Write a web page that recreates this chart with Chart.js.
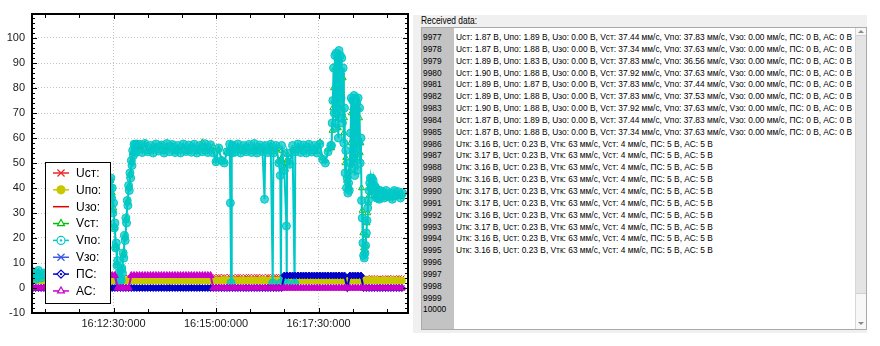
<!DOCTYPE html>
<html>
<head>
<meta charset="utf-8">
<script src="https://cdn.jsdelivr.net/npm/chart.js@4.4.1/dist/chart.umd.min.js"></script>
<style>
  body { margin: 0; background: #fff; width: 880px; height: 346px; overflow: hidden; position: relative;
         font-family: "Liberation Sans", Arial, sans-serif; }
  #chartWrap { position: absolute; left: 0; top: 0; width: 413px; height: 346px; }
  #panel { position: absolute; left: 413px; top: 15px; width: 454px; height: 318px; background: #f0f0f0; }
  #caption { position: absolute; left: 8px; top: 0; line-height: 12px; font-size: 10px; color: #000;
             white-space: nowrap; transform-origin: 0 0; }
  #box { position: absolute; left: 8px; top: 12px; width: 444px; height: 301px; border: 1px solid #aaa;
         background: #fff; overflow: hidden; }
  #gutter { position: absolute; left: 0; top: 0; width: 32px; height: 100%; background: #c3c3c3; }
  #numbers, #lines { position: absolute; top: 3px; font-size: 9.5px; line-height: 11.85px; color: #000;
                     white-space: nowrap; transform-origin: 0 0; }
  #numbers { left: 1px; }
  #lines { left: 34px; }
  #scroll { position: absolute; right: 0; top: 0; width: 10px; height: 100%; border-left: 1px solid #d6d6d6;
            background: #f7f7f7; }
  #thumb { position: absolute; left: 0; right: 0; top: 7px; height: 257px; background: #e4e4e4;
           border-top: 1px solid #d0d0d0; border-bottom: 1px solid #d0d0d0; }
  .arrow { position: absolute; left: 2px; width: 0; height: 0; border-left: 3px solid transparent;
           border-right: 3px solid transparent; }
  #up { top: 2px; border-bottom: 3px solid #8a8a8a; }
  #down { bottom: 4px; border-top: 3px solid #8a8a8a; }
</style>
</head>
<body>
<div id="chartWrap"><canvas id="plot" width="413" height="346"></canvas></div>
<div id="panel">
  <div id="caption">Received data:</div>
  <div id="box">
    <div id="gutter"></div>
    <div id="numbers"></div>
    <div id="lines"></div>
    <div id="scroll"><div id="thumb"></div><div id="up" class="arrow"></div><div id="down" class="arrow"></div></div>
  </div>
</div>
<script>
"use strict";

// time is counted in seconds after 16:10:00
const seriesNames = ["Uст:", "Uпо:", "Uзо:", "Vст:", "Vпо:", "Vзо:", "ПС:", "АС:"];

const yTickValues = [-10, 0, 10, 20, 30, 40, 50, 60, 70, 80, 90, 100];
const xTickValues = [150, 300, 450];
const xTickLabels = ["16:12:30:000", "16:15:00:000", "16:17:30:000"];

// slow channels, sampled every 4 s
const uTimes = [
  32, 36, 40, 44, 48, 52, 56, 60, 64, 68, 72, 76, 80, 84, 88, 92, 96, 100, 104, 108,
  112, 116, 120, 124, 128, 132, 136, 140, 144, 148, 152, 156, 160, 164, 168, 172, 176, 180, 184, 188,
  192, 196, 200, 204, 208, 212, 216, 220, 224, 228, 232, 236, 240, 244, 248, 252, 256, 260, 264, 268,
  272, 276, 280, 284, 288, 292, 296, 300, 304, 308, 312, 316, 320, 324, 328, 332, 336, 340, 344, 348,
  352, 356, 360, 364, 368, 372, 376, 380, 384, 388, 392, 396, 400, 404, 408, 412, 416, 420, 424, 428,
  432, 436, 440, 444, 448, 452, 456, 460, 464, 468, 472, 476, 480, 484, 488, 492, 496, 500, 504, 508,
  512, 516, 520, 524, 528, 532, 536, 540, 544, 548, 552, 556, 560, 564, 568, 572
];

const uSt = [
  4.1, 4.2, 4.0, 4.3, 4.1, 4.2, 4.0, 4.1, 4.3, 4.2, 4.0, 4.1, 4.2, 4.1, 4.3, 4.0, 4.2, 4.1, 4.0, 4.2,
  4.1, 4.3, 4.2, 4.0, 4.1, 4.2, 4.3, 4.1, 4.0, 4.2, 4.1, 4.3, 4.2, 4.0, 4.1, 4.2, 4.1, 4.3, 4.0, 4.2,
  4.2, 4.1, 4.3, 4.0, 4.2, 4.1, 4.2, 4.4, 4.1, 4.3, 4.2, 4.0, 4.3, 4.1, 4.2, 4.0, 4.3, 4.2, 4.1, 4.2,
  4.3, 4.1, 4.2, 4.0, 4.3, 4.2, 4.4, 4.3, 4.5, 4.3, 4.4, 4.2, 4.5, 4.4, 4.3, 4.5, 4.4, 4.2, 4.4, 4.5,
  4.3, 4.4, 4.5, 4.3, 4.4, 4.2, 4.5, 4.4, 4.3, 4.5, 4.4, 4.3, 4.4, 4.2, 4.3, 4.4, 4.2, 4.3, 4.4, 4.2,
  4.3, 4.1, 4.4, 4.2, 4.3, 4.1, 4.2, 4.4, 4.3, 4.2, 4.1, 4.3, 4.3, 4.2, 4.1, 4.3, 4.2, 4.0, 4.1, 4.0,
  3.8, 3.7, 3.9, 3.8, 4.0, 3.9, 3.8, 3.9, 3.7, 3.9, 4.0, 3.8, 3.9, 3.8, 4.0, 3.9
];

const uPo = [
  3.0, 2.9, 3.1, 3.0, 2.8, 3.1, 3.0, 2.9, 3.2, 3.0, 2.9, 3.0, 3.1, 2.9, 3.0, 3.1, 2.8, 3.0, 3.1, 2.9,
  3.0, 3.1, 2.9, 3.0, 3.2, 2.9, 3.0, 3.1, 2.9, 3.0, 3.0, 2.8, 3.1, 3.0, 2.9, 3.1, 3.0, 2.9, 3.2, 3.0,
  2.9, 3.1, 3.0, 2.9, 3.0, 3.2, 3.0, 2.9, 3.1, 3.0, 2.8, 3.0, 3.1, 3.0, 2.9, 3.1, 3.0, 3.0, 2.9, 3.1,
  3.0, 2.9, 3.1, 3.2, 3.0, 2.9, 3.1, 3.0, 2.9, 3.0, 3.2, 3.0, 2.9, 3.1, 3.0, 2.9, 3.0, 3.1, 2.9, 3.0,
  3.1, 3.0, 2.9, 3.0, 3.2, 3.0, 2.9, 3.1, 3.0, 2.9, 3.0, 3.1, 3.0, 2.9, 3.1, 3.0, 3.2, 2.9, 3.0, 3.1,
  3.0, 2.9, 3.1, 3.0, 2.9, 3.0, 3.2, 3.0, 2.9, 3.1, 3.0, 3.0, 2.9, 3.1, 3.0, 2.9, 3.1, 3.0, 2.9, 3.0,
  3.1, 3.0, 2.9, 3.1, 3.0, 3.2, 3.0, 2.9, 3.1, 3.0, 2.9, 3.0, 3.1, 3.0, 2.9, 3.0
];

const uZo = [
  0, 0, 0, 0, 0, 0, 0, 0, 0, 0, 0, 0, 0, 0, 0, 0, 0, 0, 0, 0,
  0, 0, 0, 0, 0, 0, 0, 0, 0, 0, 0, 0, 0, 0, 0, 0, 0, 0, 0, 0,
  0, 0, 0, 0, 0, 0, 0, 0, 0, 0, 0, 0, 0, 0, 0, 0, 0, 0, 0, 0,
  0, 0, 0, 0, 0, 0, 0, 0, 0, 0, 0, 0, 0, 0, 0, 0, 0, 0, 0, 0,
  0, 0, 0, 0, 0, 0, 0, 0, 0, 0, 0, 0, 0, 0, 0, 0, 0, 0, 0, 0,
  0, 0, 0, 0, 0, 0, 0, 0, 0, 0, 0, 0, 0, 0, 0, 0, 0, 0, 0, 0,
  0, 0, 0, 0, 0, 0, 0, 0, 0, 0, 0, 0, 0, 0, 0, 0
];

const vZo = [
  0, 0, 0, 0, 0, 0, 0, 0, 0, 0, 0, 0, 0, 0, 0, 0, 0, 0, 0, 0,
  0, 0, 0, 0, 0, 0, 0, 0, 0, 0, 0, 0, 0, 0, 0, 0, 0, 0, 0, 0,
  0, 0, 0, 0, 0, 0, 0, 0, 0, 0, 0, 0, 0, 0, 0, 0, 0, 0, 0, 0,
  0, 0, 0, 0, 0, 0, 0, 0, 0, 0, 0, 0, 0, 0, 0, 0, 0, 0, 0, 0,
  0, 0, 0, 0, 0, 0, 0, 0, 0, 0, 0, 0, 0, 0, 0, 0, 0, 0, 0, 0,
  0, 0, 0, 0, 0, 0, 0, 0, 0, 0, 0, 0, 0, 0, 0, 0, 0, 0, 0, 0,
  0, 0, 0, 0, 0, 0, 0, 0, 0, 0, 0, 0, 0, 0, 0, 0
];

const ps = [
  0, 0, 0, 0, 0, 0, 0, 0, 0, 0, 0, 0, 0, 0, 0, 0, 0, 0, 0, 0,
  0, 0, 0, 0, 0, 0, 0, 0, 0, 0, 0, 0, 0, 0, 0, 0, 0, 0, 0, 0,
  0, 0, 0, 0, 0, 0, 0, 0, 0, 0, 0, 0, 0, 0, 0, 0, 0, 0, 0, 0,
  0, 0, 0, 0, 0, 0, 0, 0, 0, 0, 0, 0, 0, 0, 0, 0, 0, 0, 0, 0,
  0, 0, 0, 0, 0, 0, 0, 0, 0, 0, 0, 0, 5, 5, 5, 5, 5, 5, 5, 5,
  5, 5, 5, 5, 5, 5, 5, 5, 5, 5, 5, 5, 5, 5, 5, 0, 5, 5, 5, 5,
  5, 0, 0, 0, 0, 0, 0, 0, 0, 0, 0, 0, 0, 0, 0, 0
];

const as = [
  0, 0, 0, 0, 0, 0, 0, 0, 0, 0, 0, 0, 0, 0, 0, 0, 0, 0, 0, 0,
  0, 0, 5, 5, 5, 5, 5, 5, 5, 5, 5, 0, 0, 0, 0, 0, 5, 5, 5, 5,
  5, 5, 5, 5, 5, 5, 5, 5, 5, 5, 5, 5, 5, 5, 5, 5, 5, 5, 5, 5,
  5, 5, 5, 5, 5, 5, 0, 0, 0, 0, 0, 0, 0, 0, 0, 0, 0, 0, 0, 0,
  0, 0, 0, 0, 0, 0, 0, 0, 0, 0, 0, 0, 0, 0, 0, 0, 0, 0, 0, 0,
  0, 0, 0, 0, 0, 0, 0, 0, 0, 0, 0, 0, 0, 0, 0, 0, 0, 0, 0, 0,
  0, 0, 0, 0, 0, 0, 0, 0, 0, 0, 0, 0, 0, 0, 0, 0
];

// speed channels, irregular sampling (denser around drops and peaks)
const vTimes = [
  32, 36, 40, 44, 48, 56, 64, 72, 80, 88, 96, 104, 112, 120, 128, 136, 140,
  144, 145, 146, 147, 148, 149, 150, 151, 152, 153, 154, 155, 156, 157, 158, 159, 160, 161, 162, 163,
  164, 165, 166, 167, 168, 169, 170, 171, 172, 173, 174, 175, 176, 177, 178, 179, 180, 181, 182, 183, 184,
  188, 192, 196, 200, 204, 208, 212, 216, 220, 224, 228, 232, 236, 240, 244, 248, 252, 256, 260, 264,
  268, 272, 276, 280, 284, 288, 292, 296, 300, 304, 308, 312, 316, 320, 321, 322, 323, 324, 328, 332,
  336, 340, 344, 348, 352, 356, 360, 364, 368, 371, 372, 376, 380, 383, 384, 388, 392, 394, 395, 396,
  400, 403, 403.5, 404, 408, 412, 415, 416, 420, 424, 428, 432, 436, 440, 444, 448, 452, 456, 460, 464, 468,
  469, 470, 471, 472, 473, 474, 475, 476, 477, 478, 479, 480, 481, 482, 483, 484, 485, 486, 487, 488,
  489, 490, 491, 492, 493, 494, 495, 496, 497, 498, 499, 500, 501, 502, 503, 504, 505, 506, 507, 508,
  509, 510, 511, 512, 513, 514, 515, 516, 517, 518, 519, 520, 521, 522, 523, 524, 525, 526, 527, 528,
  529, 530, 531, 532, 533, 534, 535, 536, 537, 538, 539, 540,
  543, 546, 549, 552, 555, 558, 561, 564, 567, 570, 573
];

const vPo = [
  6.5, 3.5, 7.0, 4.0, 6.0, 10, 22, 33, 40, 43, 42, 44, 41, 43, 42, 44, 43,
  43, 40, 44, 36, 40, 30, 34, 24, 26, 16, 18, 9, 11, 4, 6, 2, 4, 3, 8, 6,
  14, 12, 21, 19, 28, 26, 35, 33, 41, 39, 46, 44, 51, 49, 55, 53, 57.5, 54.5, 57.5, 54.2, 57.6,
  57.5, 54.2, 57.8, 54.5, 57.0, 54.0, 57.6, 54.8, 57.2, 54.0, 57.8, 54.5, 57.4, 54.2, 57.0, 54.0, 57.6, 54.6, 57.2, 54.3,
  57.5, 54.0, 57.0, 54.5, 57.7, 54.2, 57.3, 54.0, 50.5, 56.0, 51.0, 50.0, 54.5, 57.5, 34, 2, 54, 57.2, 54.3, 57.6,
  54.0, 57.0, 54.5, 57.4, 54.2, 57.8, 54.0, 57.2, 54.6, 35.5, 57.0, 54.2, 57.5, 2, 54.0, 57.0, 50.0, 45, 2, 57.0,
  47.0, 24.8, 2, 54.0, 49.5, 57.0, 2, 54.5, 57.6, 54.2, 57.2, 54.0, 57.5, 54.4, 57.0, 54.0, 57.6, 51.5, 50.0, 54.5, 57.0,
  57, 66, 75, 88, 70, 93, 64, 94, 72, 92, 60, 95, 68, 93, 76, 92, 66, 88, 58, 72,
  46, 55, 40, 44, 38, 42, 39, 50, 62, 76, 48, 75, 52, 77, 45, 76, 55, 74, 47, 76,
  58, 72, 50, 60, 35, 28, 18, 13, 12, 14, 17, 22, 27, 32, 35, 39, 42, 44, 40, 44,
  41, 43, 39, 41, 37, 40, 36, 39, 36, 38, 35.5, 39,
  38.5, 36, 39, 36.5, 38, 35.5, 39, 37, 38.5, 36, 38
];

const vSt = [
  6.0, 4.0, 6.5, 4.5, 5.5, 9, 20, 31, 39, 42, 43, 43, 42, 44, 41, 43, 44,
  42, 41, 43, 37, 38, 31, 32, 25, 24, 17, 16, 10, 9, 5, 4, 2.5, 3, 4, 7, 8,
  13, 14, 20, 21, 27, 28, 34, 35, 40, 41, 45, 46, 50, 51, 54, 54, 56.5, 55, 56.5, 55, 56.5,
  56.5, 55.0, 57.5, 54.5, 55.0, 57.0, 56.5, 55.0, 57.0, 54.5, 56.5, 55.5, 57.0, 54.5, 56.0, 55.0, 56.5, 55.0, 54.5, 57.0,
  55.5, 54.5, 56.0, 58.3, 54.5, 56.0, 55.5, 56.5, 51.0, 55.5, 51.5, 50.5, 54.5, 56.0, 55.0, 54.5, 55.0, 55.0, 56.5, 55.0,
  55.5, 54.5, 57.0, 55.5, 54.5, 56.0, 54.5, 56.5, 55.5, 55.0, 54.5, 56.0, 57.0, 55.5, 54.5, 55.5, 51.0, 50.5, 51.5, 55.0,
  48.0, 50.0, 51.0, 53.5, 50.5, 55.5, 55.0, 55.0, 56.5, 55.5, 54.5, 57.0, 55.5, 54.5, 56.0, 54.5, 58.3, 52.0, 51.0, 55.5, 56.0,
  56, 63, 72, 80, 75, 88, 68, 90, 75, 86, 64, 90, 72, 88, 78, 86, 70, 84, 62, 68,
  50, 52, 43, 45, 40, 41, 40, 47, 58, 70, 52, 72, 56, 73, 50, 72, 58, 70, 52, 72,
  60, 68, 54, 58, 40, 31, 22, 16, 14, 15, 17, 21, 26, 30, 34, 37, 40, 42, 40, 42,
  40, 41, 39, 40, 37, 39, 37, 38, 36.5, 37.5, 36.5, 38,
  37, 36.5, 38, 36, 37.5, 36, 38, 36.5, 37.5, 36.5, 37.5
];

// tail of the receive log
const firstLineNo = 9977;
const lineCount = 24;
const logLines = [
  "Uст: 1.87 В, Uпо: 1.89 В, Uзо: 0.00 В, Vст: 37.44 мм/с, Vпо: 37.83 мм/с, Vзо: 0.00 мм/с, ПС: 0 В, АС: 0 В",
  "Uст: 1.87 В, Uпо: 1.88 В, Uзо: 0.00 В, Vст: 37.34 мм/с, Vпо: 37.63 мм/с, Vзо: 0.00 мм/с, ПС: 0 В, АС: 0 В",
  "Uст: 1.89 В, Uпо: 1.83 В, Uзо: 0.00 В, Vст: 37.83 мм/с, Vпо: 36.56 мм/с, Vзо: 0.00 мм/с, ПС: 0 В, АС: 0 В",
  "Uст: 1.90 В, Uпо: 1.88 В, Uзо: 0.00 В, Vст: 37.92 мм/с, Vпо: 37.63 мм/с, Vзо: 0.00 мм/с, ПС: 0 В, АС: 0 В",
  "Uст: 1.89 В, Uпо: 1.87 В, Uзо: 0.00 В, Vст: 37.83 мм/с, Vпо: 37.44 мм/с, Vзо: 0.00 мм/с, ПС: 0 В, АС: 0 В",
  "Uст: 1.89 В, Uпо: 1.88 В, Uзо: 0.00 В, Vст: 37.83 мм/с, Vпо: 37.53 мм/с, Vзо: 0.00 мм/с, ПС: 0 В, АС: 0 В",
  "Uст: 1.90 В, Uпо: 1.88 В, Uзо: 0.00 В, Vст: 37.92 мм/с, Vпо: 37.63 мм/с, Vзо: 0.00 мм/с, ПС: 0 В, АС: 0 В",
  "Uст: 1.87 В, Uпо: 1.89 В, Uзо: 0.00 В, Vст: 37.44 мм/с, Vпо: 37.83 мм/с, Vзо: 0.00 мм/с, ПС: 0 В, АС: 0 В",
  "Uст: 1.87 В, Uпо: 1.88 В, Uзо: 0.00 В, Vст: 37.34 мм/с, Vпо: 37.63 мм/с, Vзо: 0.00 мм/с, ПС: 0 В, АС: 0 В",
  "Uтк: 3.16 В, Uст: 0.23 В, Vтк: 63 мм/с, Vст: 4 мм/с, ПС: 5 В, АС: 5 В",
  "Uтк: 3.17 В, Uст: 0.23 В, Vтк: 63 мм/с, Vст: 4 мм/с, ПС: 5 В, АС: 5 В",
  "Uтк: 3.16 В, Uст: 0.23 В, Vтк: 63 мм/с, Vст: 4 мм/с, ПС: 5 В, АС: 5 В",
  "Uтк: 3.16 В, Uст: 0.23 В, Vтк: 63 мм/с, Vст: 4 мм/с, ПС: 5 В, АС: 5 В",
  "Uтк: 3.17 В, Uст: 0.23 В, Vтк: 63 мм/с, Vст: 4 мм/с, ПС: 5 В, АС: 5 В",
  "Uтк: 3.17 В, Uст: 0.23 В, Vтк: 63 мм/с, Vст: 4 мм/с, ПС: 5 В, АС: 5 В",
  "Uтк: 3.16 В, Uст: 0.23 В, Vтк: 63 мм/с, Vст: 4 мм/с, ПС: 5 В, АС: 5 В",
  "Uтк: 3.17 В, Uст: 0.23 В, Vтк: 63 мм/с, Vст: 4 мм/с, ПС: 5 В, АС: 5 В",
  "Uтк: 3.16 В, Uст: 0.23 В, Vтк: 63 мм/с, Vст: 4 мм/с, ПС: 5 В, АС: 5 В",
  "Uтк: 3.16 В, Uст: 0.23 В, Vтк: 63 мм/с, Vст: 4 мм/с, ПС: 5 В, АС: 5 В"
];

(function() {
  const FONT = "'Liberation Sans', Arial, sans-serif";

  function points(times, values) {
    return times.map((t, i) => ({ x: t, y: values[i] }));
  }

  function trace(name, times, values, o) {
    return {
      label: name,
      data: points(times, values),
      borderColor: o.color,
      borderWidth: o.width,
      pointStyle: o.style || "circle",
      pointRadius: o.radius || 0,
      pointBorderColor: o.color,
      pointBackgroundColor: o.fill || "rgba(0,0,0,0)",
      pointBorderWidth: 1,
      order: o.order,
      tension: 0
    };
  }

  // marker shapes for the legend, same look as Chart.js point styles
  function marker(ctx, style, x, y, r) {
    ctx.beginPath();
    if (style === "circle") {
      ctx.arc(x, y, r, 0, Math.PI * 2);
    } else if (style === "triangle") {
      ctx.moveTo(x, y - r);
      ctx.lineTo(x + r * 0.866, y + r * 0.5);
      ctx.lineTo(x - r * 0.866, y + r * 0.5);
      ctx.closePath();
    } else if (style === "rectRot") {
      ctx.moveTo(x, y - r); ctx.lineTo(x + r, y); ctx.lineTo(x, y + r); ctx.lineTo(x - r, y);
      ctx.closePath();
    } else if (style === "crossRot") {
      const d = r * 0.707;
      ctx.moveTo(x - d, y - d); ctx.lineTo(x + d, y + d);
      ctx.moveTo(x + d, y - d); ctx.lineTo(x - d, y + d);
    }
  }

  // black frame with inward ticks on all four sides
  const framePlugin = {
    id: "frame",
    afterDatasetsDraw(chart) {
      const { ctx, chartArea: a } = chart;
      const xs = chart.scales.x, ys = chart.scales.y;
      ctx.save();
      ctx.strokeStyle = "#000";
      ctx.lineWidth = 1;
      ctx.beginPath();
      for (let v = -10; v <= 108; v += 2) {
        const py = Math.round(ys.getPixelForValue(v)) + 0.5;
        const len = v % 10 === 0 ? 5 : 3;
        ctx.moveTo(a.left, py); ctx.lineTo(a.left + len, py);
        ctx.moveTo(a.right, py); ctx.lineTo(a.right - len, py);
      }
      for (let t = 50; t <= 550; t += 50) {
        const px = Math.round(xs.getPixelForValue(t)) + 0.5;
        const len = t % 150 === 0 ? 5 : 4;
        ctx.moveTo(px, a.bottom); ctx.lineTo(px, a.bottom - len);
        ctx.moveTo(px, a.top); ctx.lineTo(px, a.top + len);
      }
      ctx.stroke();
      ctx.lineWidth = 2;
      ctx.strokeRect(a.left, a.top, a.right - a.left, a.bottom - a.top);
      ctx.restore();
    }
  };

  // boxed legend in the lower left corner of the plot
  const legendPlugin = {
    id: "boxLegend",
    afterDraw(chart) {
      const ctx = chart.ctx;
      const box = { x: 45.5, y: 162.5, w: 65, h: 141 };
      ctx.save();
      ctx.fillStyle = "#fff";
      ctx.fillRect(box.x, box.y, box.w, box.h);
      ctx.strokeStyle = "#000";
      ctx.lineWidth = 1;
      ctx.strokeRect(box.x, box.y, box.w, box.h);
      ctx.font = "12px " + FONT;
      ctx.textBaseline = "middle";
      chart.data.datasets.forEach((ds, i) => {
        const y = 173 + i * 16.85;
        ctx.strokeStyle = ds.borderColor;
        ctx.lineWidth = 1.5;
        ctx.beginPath();
        ctx.moveTo(53, y); ctx.lineTo(69, y);
        ctx.stroke();
        if (ds.pointRadius > 0) {
          const r = ds.pointStyle === "crossRot" ? 5 : 4;
          marker(ctx, ds.pointStyle, 61, y, r);
          ctx.fillStyle = ds.pointStyle === "circle" && i === 1 ? ds.borderColor : "#fff";
          if (ds.pointStyle !== "crossRot") ctx.fill();
          ctx.lineWidth = 1.2;
          ctx.stroke();
          if (i === 4 || i === 6) {
            ctx.fillStyle = ds.borderColor;
            ctx.beginPath();
            ctx.arc(61, y, 1.2, 0, Math.PI * 2);
            ctx.fill();
          }
        }
        ctx.fillStyle = "#000";
        ctx.fillText(ds.label, 76, y + 0.5);
      });
      ctx.restore();
    }
  };

  function init() {
    const datasets = [
      trace(seriesNames[0], uTimes, uSt, { color: "#e42a2a", width: 1, style: "crossRot", radius: 4, order: 5 }),
      trace(seriesNames[1], uTimes, uPo, { color: "#c8c800", width: 2, style: "circle", radius: 3.5, fill: "#c8c800", order: 4 }),
      trace(seriesNames[2], uTimes, uZo, { color: "#e00000", width: 1.5, order: 7 }),
      trace(seriesNames[3], vTimes, vSt, { color: "#00c000", width: 1, style: "triangle", radius: 3.5, order: 3 }),
      trace(seriesNames[4], vTimes, vPo, { color: "#00c8c8", width: 2, style: "circle", radius: 4, fill: "rgba(0,200,200,0.75)", order: 2 }),
      trace(seriesNames[5], uTimes, vZo, { color: "#3a5ae6", width: 1, style: "crossRot", radius: 4, order: 6 }),
      trace(seriesNames[6], uTimes, ps, { color: "#0000c8", width: 2, style: "rectRot", radius: 3.5, fill: "#0000c8", order: 1 }),
      trace(seriesNames[7], uTimes, as, { color: "#c800c8", width: 2, style: "triangle", radius: 4, fill: "#c800c8", order: 0 })
    ];

    new Chart(id("plot"), {
      type: "line",
      data: { datasets: datasets },
      options: {
        responsive: false,
        animation: false,
        devicePixelRatio: 1,
        layout: { padding: { top: 14, right: 3, left: 0, bottom: 0 } },
        plugins: { legend: { display: false }, tooltip: { enabled: false } },
        scales: {
          x: {
            type: "linear",
            min: 30.6,
            max: 581,
            afterBuildTicks: scale => { scale.ticks = xTickValues.map(v => ({ value: v })); },
            afterFit: scale => { scale.height = 33; },
            grid: { color: "#c4c4c4", lineWidth: 1, drawTicks: false },
            border: { display: false, dash: [1, 2] },
            ticks: {
              padding: 4, maxRotation: 0, autoSkip: false, color: "#1a1a1a",
              font: { family: FONT, size: 11 },
              callback: (v, i) => xTickLabels[i]
            }
          },
          y: {
            min: -10,
            max: 109.6,
            afterBuildTicks: scale => { scale.ticks = yTickValues.map(v => ({ value: v })); },
            afterFit: scale => { scale.width = 32; },
            grid: { color: "#c4c4c4", lineWidth: 1, drawTicks: false },
            border: { display: false, dash: [1, 2] },
            ticks: { padding: 7, color: "#1a1a1a", font: { family: FONT, size: 11 } }
          }
        }
      },
      plugins: [framePlugin, legendPlugin]
    });

    fillLog();
  }

  function fillLog() {
    let nums = "";
    let rows = "";
    for (let i = 0; i < lineCount; i++) {
      nums += "<div>" + (firstLineNo + i) + "</div>";
      rows += "<div>" + (logLines[i] || "&nbsp;") + "</div>";
    }
    id("numbers").innerHTML = nums;
    id("lines").innerHTML = rows;

    // squeeze the text so that the longest record fills the text area
    const probe = id("lines").firstChild;
    const span = document.createElement("span");
    span.textContent = probe.textContent;
    probe.textContent = "";
    probe.appendChild(span);
    const k = 396 / span.getBoundingClientRect().width;
    id("lines").style.transform = "scaleX(" + k + ")";
    id("numbers").style.transform = "scaleX(" + k + ")";
    const cap = id("caption");
    cap.style.transform = "scaleX(" + (56 / cap.getBoundingClientRect().width) + ")";
  }

  function id(name) {
    return document.getElementById(name);
  }

  window.addEventListener("load", init);
})();
</script>
</body>
</html>
